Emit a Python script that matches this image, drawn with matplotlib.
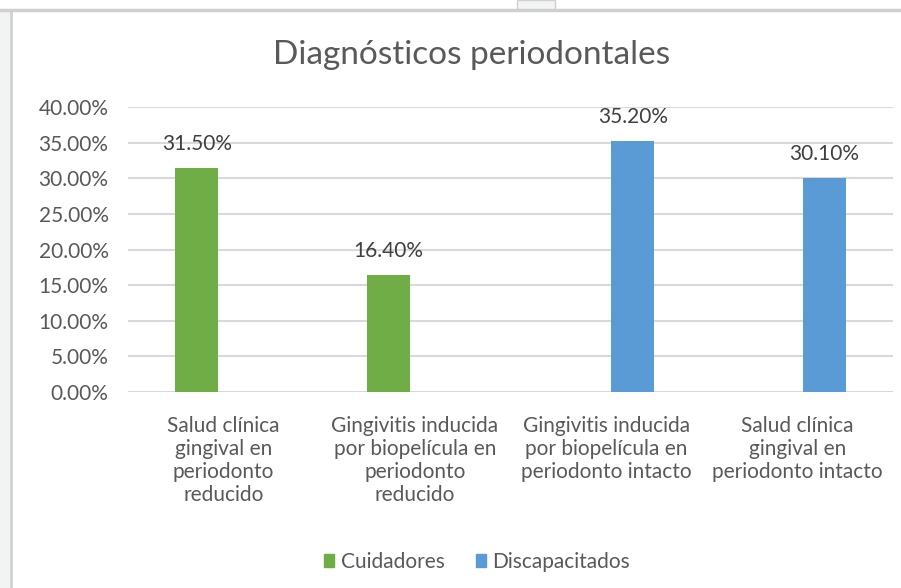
import matplotlib
matplotlib.use("Agg")
import matplotlib.pyplot as plt
from matplotlib.patches import Rectangle
from matplotlib.lines import Line2D
import numpy as np

categories = [
    "Salud clínica\ngingival en\nperiodonto\nreducido",
    "Gingivitis inducida\npor biopelícula en\nperiodonto\nreducido",
    "Gingivitis inducida\npor biopelícula en\nperiodonto intacto",
    "Salud clínica\ngingival en\nperiodonto intacto",
]
cuidadores = [31.5, 16.4, 0.0, 0.0]
discapacitados = [0.0, 0.0, 35.2, 30.1]
series_names = ["Cuidadores", "Discapacitados"]
colors = ["#70ad47", "#5b9bd5"]
yticks = [0, 5, 10, 15, 20, 25, 30, 35, 40]

plt.rcParams['font.family'] = ['Lato', 'DejaVu Sans']
W, H = 901, 588
fig = plt.figure(figsize=(W / 100, H / 100), dpi=100)

# Screenshot frame decorations
fig.patches.append(Rectangle((0, 0), 10 / W, 1 - 10 / H, transform=fig.transFigure,
                             facecolor="#f2f4f3", edgecolor="none", zorder=0))
fig.lines.append(Line2D([11 / W, 11 / W], [0, 1 - 10 / H], transform=fig.transFigure,
                        color="#d0d0d0", lw=2))
fig.lines.append(Line2D([0, 1], [1 - 10 / H, 1 - 10 / H], transform=fig.transFigure,
                        color="#d0d0d0", lw=2.5))
fig.patches.append(Rectangle((517 / W, 1 - 10 / H), 38 / W, 10 / H, transform=fig.transFigure,
                             facecolor="#f2f4f3", edgecolor="#d0d0d0", lw=1))

FS = 15
ax = fig.add_axes([128 / W, 1 - 392 / H, (893 - 128) / W, (392 - 107) / H])
x = np.arange(len(categories))
bw = 0.225
off = 0.14
vals = [cuidadores, discapacitados]
for i, (name, v, c) in enumerate(zip(series_names, vals, colors)):
    xs = x + (-off if i == 0 else off)
    ax.bar(xs, v, width=bw, color=c, label=name, zorder=3)
    for xi, vi in zip(xs, v):
        if vi > 0:
            ax.annotate(f"{vi:.2f}%", (xi, vi), xytext=(0, 10), textcoords="offset points",
                        ha="center", va="bottom", fontsize=FS, color="#404040")

ax.set_xlim(-0.5, len(categories) - 0.5)
ax.set_ylim(0, 40)
ax.set_yticks(yticks)
ax.set_yticklabels([f"{t:.2f}%" for t in yticks], fontsize=FS, color="#595959")
ax.yaxis.grid(True, color="#d9d9d9", lw=1.5, zorder=0)
ax.set_axisbelow(True)
for s in ax.spines.values():
    s.set_visible(False)
ax.tick_params(axis="both", length=0)
ax.tick_params(axis="y", pad=14)
ax.set_xticks(x)
ax.set_xticklabels(categories, fontsize=FS, color="#595959", linespacing=1.19)
ax.tick_params(axis="x", pad=17)

fig.text(472 / W, 1 - 55 / H, "Diagnósticos periodontales", fontsize=24, color="#595959",
         ha="center", va="center")

fig.legend(handles=[Rectangle((0, 0), 1, 1, color=c) for c in colors], labels=series_names,
           loc="center", bbox_to_anchor=(477 / W, 1 - 562 / H), ncol=2, frameon=False,
           fontsize=FS, handlelength=0.5, handleheight=0.6, handletextpad=0.3,
           columnspacing=1.5, labelcolor="#595959")

fig.savefig("out.png", dpi=100, facecolor="white")
